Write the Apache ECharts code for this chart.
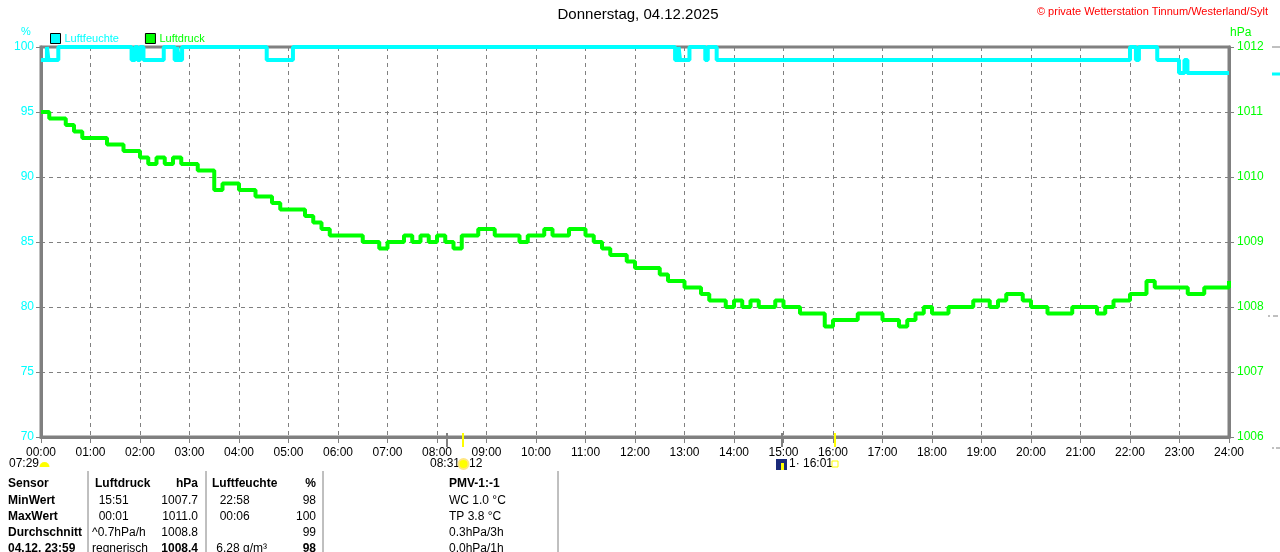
<!DOCTYPE html>
<html>
<head>
    <meta charset="UTF-8">
    <title>Donnerstag, 04.12.2025</title>
    <script src="https://cdn.jsdelivr.net/npm/echarts@6/dist/echarts.min.js"></script>
    <style>
        *{margin:0;padding:0}
        html, body{width:100%;height:100%;background:#fff}
        #main{width:1280px;height:552px}
    </style>
</head>
<body>
<div id="main"></div>
<script type="text/javascript">
    // Luftdruck alle 10 Minuten, 00:00 .. 24:00 (hPa)
    var druckWerte = [
        1011.0, 1010.9, 1010.9, 1010.8, 1010.7, 1010.6,
        1010.6, 1010.6, 1010.5, 1010.5, 1010.4, 1010.4,
        1010.3, 1010.2, 1010.3, 1010.2, 1010.3, 1010.2,
        1010.2, 1010.1, 1010.1, 1009.8, 1009.9, 1009.9,
        1009.8, 1009.8, 1009.7, 1009.7, 1009.6, 1009.5,
        1009.5, 1009.5, 1009.4, 1009.3, 1009.2, 1009.1,
        1009.1, 1009.1, 1009.1, 1009.0, 1009.0, 1008.9,
        1009.0, 1009.0, 1009.1, 1009.0, 1009.1, 1009.0,
        1009.1, 1009.0, 1008.9, 1009.1, 1009.1, 1009.2,
        1009.2, 1009.1, 1009.1, 1009.1, 1009.0, 1009.1,
        1009.1, 1009.2, 1009.1, 1009.1, 1009.2, 1009.2,
        1009.1, 1009.0, 1008.9, 1008.8, 1008.8, 1008.7,
        1008.6, 1008.6, 1008.6, 1008.5, 1008.4, 1008.4,
        1008.3, 1008.3, 1008.2, 1008.1, 1008.1, 1008.0,
        1008.1, 1008.0, 1008.1, 1008.0, 1008.0, 1008.1,
        1008.0, 1008.0, 1007.9, 1007.9, 1007.9, 1007.7,
        1007.8, 1007.8, 1007.8, 1007.9, 1007.9, 1007.9,
        1007.8, 1007.8, 1007.7, 1007.8, 1007.9, 1008.0,
        1007.9, 1007.9, 1008.0, 1008.0, 1008.0, 1008.1,
        1008.1, 1008.0, 1008.1, 1008.2, 1008.2, 1008.1,
        1008.0, 1008.0, 1007.9, 1007.9, 1007.9, 1008.0,
        1008.0, 1008.0, 1007.9, 1008.0, 1008.1, 1008.1,
        1008.2, 1008.2, 1008.4, 1008.3, 1008.3, 1008.3,
        1008.3, 1008.2, 1008.2, 1008.3, 1008.3, 1008.3,
        1008.4
    ];
    // Luftfeuchte: Wechselpunkte [Stunde, %]
    var feuchteWerte = [
        [0, 99], [0.12, 100], [0.15, 99], [0.35, 100],
        [1.83, 99], [1.9, 100], [1.95, 99], [2.0, 100], [2.07, 99], [2.48, 100],
        [2.7, 99], [2.75, 100], [2.79, 99], [2.85, 100],
        [4.56, 99], [5.09, 100],
        [12.81, 99], [12.88, 100], [12.91, 99], [13.1, 100], [13.42, 99], [13.47, 100], [13.65, 99],
        [22.0, 100], [22.12, 99], [22.18, 100], [22.55, 99], [22.99, 98], [23.1, 99], [23.16, 98], [24, 98]
    ];
    var tabelleZeilen = [
        ['Sensor', 'Luftdruck', 'hPa', 'Luftfeuchte', '%', 'PMV-1:-1'],
        ['MinWert', '  15:51', '1007.7', '  22:58', '98', 'WC 1.0 °C'],
        ['MaxWert', '  00:01', '1011.0', '  00:06', '100', 'TP 3.8 °C'],
        ['Durchschnitt', '^0.7hPa/h', '1008.8', '', '99', '0.3hPa/3h'],
        ['04.12. 23:59', 'regnerisch', '1008.4', ' 6.28 g/m³', '98', '0.0hPa/1h']
    ];

    var cyan = '#00ffff', gruen = '#00ff00', grau = '#808080';
    var schrift = 'Liberation Sans, Arial, sans-serif';

    var druckDaten = druckWerte.map(function (v, i) { return [i / 6, v]; });

    function pad(n) { return (n < 10 ? '0' : '') + n; }

    var graphics = [];
    function txt(x, y, s, opt) {
        opt = opt || {};
        graphics.push({
            type: 'text', x: x, y: y, silent: true,
            style: {
                text: s, fill: opt.color || '#000',
                font: (opt.bold ? 'bold ' : '') + (opt.size || 12) + 'px ' + schrift,
                align: opt.align || 'left', verticalAlign: 'middle'
            }
        });
    }
    function linie(x1, y1, x2, y2, color, w) {
        graphics.push({
            type: 'line', silent: true, z: 10,
            shape: {x1: x1, y1: y1, x2: x2, y2: y2},
            style: {stroke: color, lineWidth: w || 1}
        });
    }

    // Titel und Copyright
    txt(638, 15, 'Donnerstag, 04.12.2025', {size: 15, align: 'center'});
    txt(1268, 12, '© private Wetterstation Tinnum/Westerland/Sylt', {size: 11, align: 'right', color: '#ff0000'});
    txt(26, 32, '%', {size: 11, color: cyan, align: 'center'});
    txt(1230, 33, 'hPa', {size: 12, color: gruen});

    // Sonnenauf-/untergang unter der Achse
    linie(447, 433, 447, 447, grau, 2);
    linie(463, 433, 463, 447, '#ffff00', 2);
    linie(782, 433, 782, 447, grau, 2);
    linie(835, 433, 835, 447, '#ffff00', 2);
    txt(9, 464, '07:29');
    graphics.push({type: 'sector', silent: true, shape: {cx: 44.5, cy: 467, r: 5, startAngle: Math.PI, endAngle: 2 * Math.PI}, style: {fill: '#ffff00'}});
    txt(430, 464, '08:31');
    graphics.push({type: 'circle', silent: true, shape: {cx: 463.5, cy: 464, r: 5}, style: {fill: '#ffff00', stroke: '#ffe680', lineWidth: 2}});
    txt(469, 464, '12');
    graphics.push({type: 'rect', silent: true, shape: {x: 776, y: 459, width: 11, height: 11}, style: {fill: '#1a2a7a'}});
    graphics.push({type: 'rect', silent: true, shape: {x: 781, y: 463, width: 3, height: 7}, style: {fill: '#ffff00'}});
    txt(789, 464, '1· 16:01');
    graphics.push({type: 'rect', silent: true, shape: {x: 832, y: 461, width: 6, height: 6}, style: {fill: '#fff', stroke: '#ffff00', lineWidth: 1}});

    // Kleine Reste rechts
    linie(1272, 47, 1280, 47, grau, 1);
    linie(1272, 74, 1280, 74, cyan, 3);
    linie(1268, 316, 1270, 316, grau, 1);
    linie(1273, 316, 1278, 316, grau, 1);
    linie(1272, 448, 1274, 448, grau, 1);
    linie(1276, 448, 1280, 448, grau, 1);

    // Tabelle
    var zeilenY = [484, 501, 517, 533, 549];
    [88, 206, 323, 558].forEach(function (x) { linie(x, 471, x, 552, grau, 1); });
    tabelleZeilen.forEach(function (z, r) {
        var y = zeilenY[r];
        var fett = (r === 0);
        txt(8, y, z[0], {bold: true});
        txt(r === 0 ? 95 : 92, y, z[1], {bold: fett});
        txt(198, y, z[2], {bold: fett || r === 4, align: 'right'});
        txt(r === 0 ? 212 : 213, y, z[3], {bold: fett});
        txt(316, y, z[4], {bold: fett || r === 4, align: 'right'});
        txt(449, y, z[5], {bold: fett});
    });

    var myChart = echarts.init(document.getElementById('main'));
    var option = {
        animation: false,
        backgroundColor: '#fff',
        textStyle: {fontFamily: schrift},
        legend: {
            left: 50, top: 33, padding: 0, itemWidth: 10, itemHeight: 10, itemGap: 26, icon: 'rect',
            selectedMode: false,
            itemStyle: {borderColor: '#000', borderWidth: 1},
            textStyle: {fontSize: 11, padding: [0, 0, 0, -1]},
            data: [
                {name: 'Luftfeuchte', textStyle: {color: cyan}},
                {name: 'Luftdruck', textStyle: {color: gruen}}
            ]
        },
        grid: {
            left: 41, right: 51, top: 47, bottom: 115,
            show: true, borderColor: grau, borderWidth: 3, backgroundColor: 'transparent'
        },
        xAxis: {
            type: 'value', min: 0, max: 24, interval: 1,
            axisLine: {show: true, lineStyle: {color: grau, width: 3}},
            axisTick: {show: true, length: 6, lineStyle: {color: grau}},
            axisLabel: {
                color: '#000', fontSize: 12, margin: 10,
                formatter: function (v) { return pad(v) + ':00'; }
            },
            splitLine: {show: true, lineStyle: {color: grau, type: [4, 4], width: 1}}
        },
        yAxis: [
            {
                type: 'value', min: 70, max: 100, interval: 5, position: 'left',
                axisLine: {show: true, lineStyle: {color: grau, width: 3}},
                axisTick: {show: true, length: 5, lineStyle: {color: grau}},
                axisLabel: {color: cyan, fontSize: 12, margin: 7},
                splitLine: {show: true, lineStyle: {color: grau, type: [4, 4], width: 1}}
            },
            {
                type: 'value', min: 1006, max: 1012, interval: 1, position: 'right',
                axisLine: {show: true, lineStyle: {color: grau, width: 3}},
                axisTick: {show: true, length: 5, lineStyle: {color: grau}},
                axisLabel: {color: gruen, fontSize: 12, margin: 8, formatter: function (v) { return String(v); }},
                splitLine: {show: false}
            }
        ],
        series: [
            {
                name: 'Luftfeuchte', type: 'line', yAxisIndex: 0, step: 'end',
                showSymbol: false, symbol: 'none', z: 4,
                itemStyle: {color: cyan},
                lineStyle: {color: cyan, width: 4},
                data: feuchteWerte
            },
            {
                name: 'Luftdruck', type: 'line', yAxisIndex: 1, step: 'end',
                showSymbol: false, symbol: 'none', z: 3,
                itemStyle: {color: gruen},
                lineStyle: {color: gruen, width: 4},
                data: druckDaten
            }
        ],
        graphic: graphics
    };
    myChart.setOption(option);
</script>
</body>
</html>
